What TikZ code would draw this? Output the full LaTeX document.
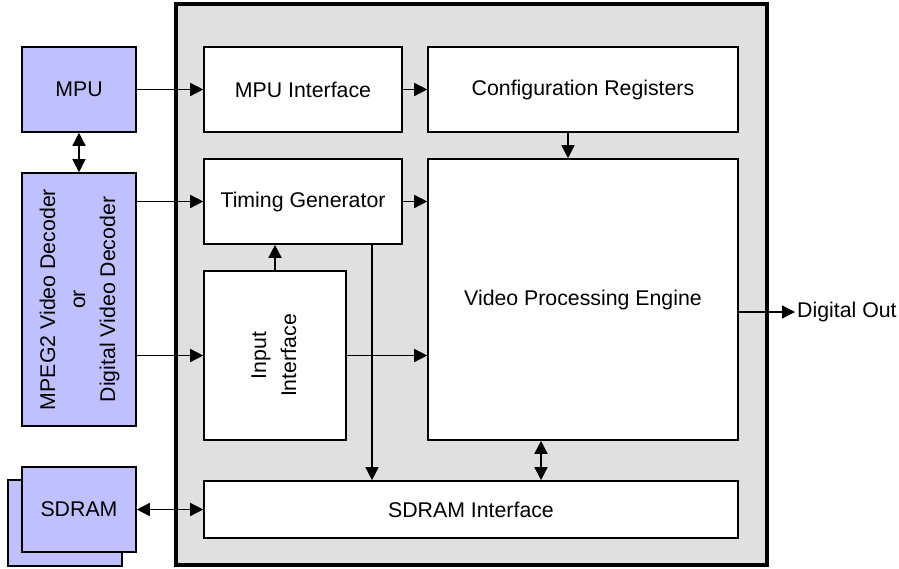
\documentclass[tikz,border=0pt]{standalone}
\usepackage{fontspec}
\setmainfont{Liberation Sans}
\usepackage{xcolor}
\usepackage{tikz}
\usetikzlibrary{arrows.meta}
\definecolor{vplav}{HTML}{C0C0FF}
\definecolor{vpgrey}{HTML}{E0E0E0}
\definecolor{vpblack}{HTML}{000000}
\tikzset{
  vpbox/.style={draw=vpblack, line width=1.6pt, fill=white, inner sep=1pt, align=center},
  vpext/.style={vpbox, fill=vplav},
  vpchip/.style={draw=vpblack, line width=3.2pt, fill=vpgrey, inner sep=0pt},
  vparr/.style={line width=1.5pt, -{Triangle[length=13pt, width=13pt]}},
  vpboth/.style={line width=1.5pt, {Triangle[length=13pt, width=13pt]}-{Triangle[length=13pt, width=13pt]}}
}

\begin{document}
\begin{tikzpicture}[x=1pt, y=-1pt, font=\fontsize{21.3}{30}\selectfont]
  \useasboundingbox (0,0) rectangle (899,569);
  \node[vpchip, minimum width=591pt, minimum height=561pt] (chip) at (471.5,284.5) {};
  \node[vpext, minimum width=114pt, minimum height=85pt] (mpu) at (79,89.5) {MPU};
  \node[vpext, minimum width=114pt, minimum height=253pt] (dec) at (79,299.5) {\rotatebox{90}{\begin{tabular}{@{}c@{}}MPEG2 Video Decoder\\or\\Digital Video Decoder\end{tabular}}};
  \node[vpext, minimum width=114pt, minimum height=86pt] (sdramb) at (65,523) {};
  \node[vpext, minimum width=114pt, minimum height=85pt] (sdram) at (79,509.5) {SDRAM};
  \node[vpbox, minimum width=198pt, minimum height=85pt] (mpuif) at (303,89.5) {MPU Interface};
  \node[vpbox, minimum width=310pt, minimum height=85pt] (cfg) at (583,89.5) {Configuration Registers};
  \node[vpbox, minimum width=198pt, minimum height=85pt] (tg) at (303,201.5) {Timing Generator};
  \node[vpbox, minimum width=310pt, minimum height=281pt] (vpe) at (583,299.5) {Video Processing Engine};
  \node[vpbox, minimum width=142pt, minimum height=169pt] (inif) at (275,355.5) {\rotatebox{90}{\begin{tabular}{@{}c@{}}Input\\Interface\end{tabular}}};
  \node[vpbox, minimum width=534pt, minimum height=57pt] (sdramif) at (471,509.5) {SDRAM Interface};
  \node[anchor=west, inner sep=2pt] (out) at (795,312) {Digital Out};
  \draw[vparr] (mpu.east) -- (mpuif.west);
  \draw[vpboth] (mpu.south) -- (dec.north);
  \draw[vparr] (dec.east |- tg.west) -- (tg.west);
  \draw[vparr] (dec.east |- inif.west) -- (inif.west);
  \draw[vparr] (mpuif.east) -- (cfg.west);
  \draw[vparr] (tg.east) -- (tg.east -| vpe.west);
  \draw[vparr] ([xshift=-15pt]cfg.south) -- ([xshift=-15pt]vpe.north);
  \draw[vparr] (inif.north) -- (inif.north |- tg.south);
  \draw[vparr] (inif.east) -- (inif.east -| vpe.west);
  \draw[vparr] ([xshift=69pt]tg.south) -- ([xshift=69pt]tg.south |- sdramif.north);
  \draw[vpboth] ([xshift=-42pt]vpe.south) -- ([xshift=-42pt]vpe.south |- sdramif.north);
  \draw[vpboth] (sdram.east) -- (sdramif.west);
  \draw[vparr] ([yshift=-12.5pt]vpe.east) -- (out.west);
\end{tikzpicture}
\end{document}
